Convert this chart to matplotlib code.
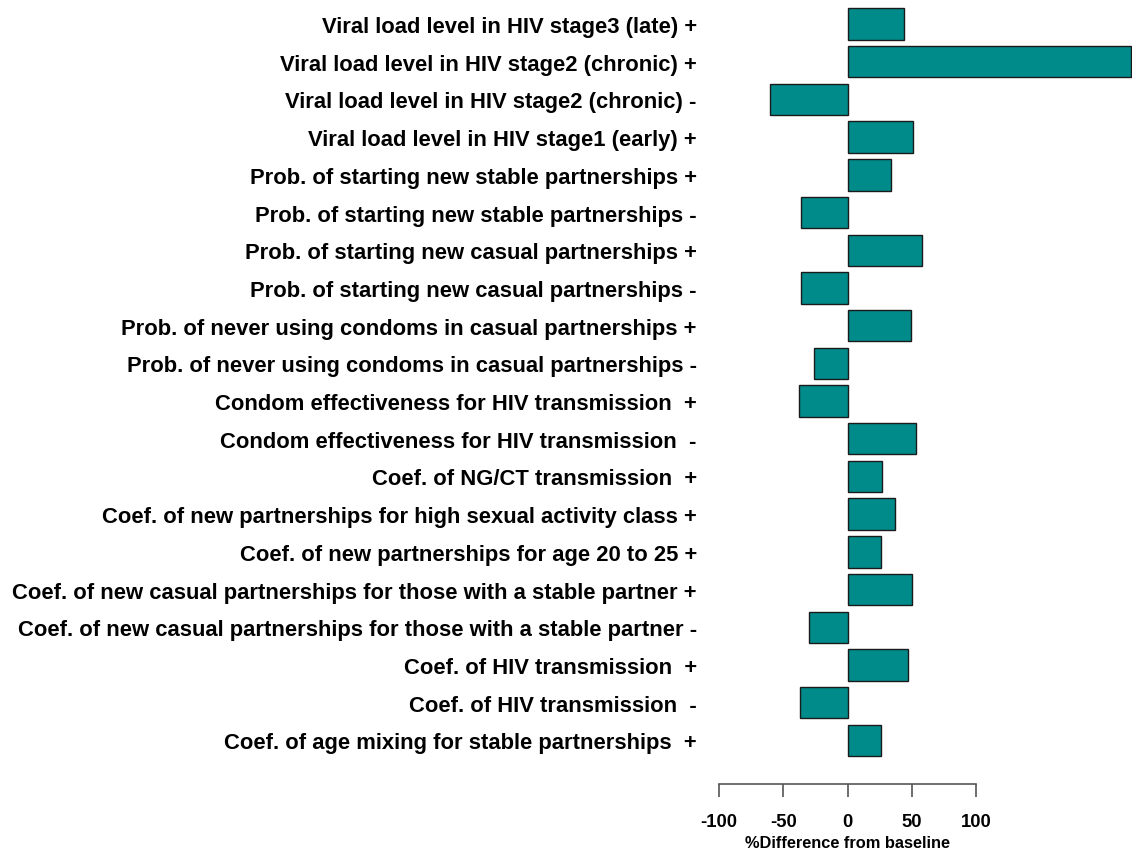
"""
Sensitivity analysis: % difference from baseline per parameter change.
"""

import matplotlib.pyplot as plt
import numpy as np

labels = [
    "Viral load level in HIV stage3 (late) +",
    "Viral load level in HIV stage2 (chronic) +",
    "Viral load level in HIV stage2 (chronic) -",
    "Viral load level in HIV stage1 (early) +",
    "Prob. of starting new stable partnerships +",
    "Prob. of starting new stable partnerships -",
    "Prob. of starting new casual partnerships +",
    "Prob. of starting new casual partnerships -",
    "Prob. of never using condoms in casual partnerships +",
    "Prob. of never using condoms in casual partnerships -",
    "Condom effectiveness for HIV transmission  +",
    "Condom effectiveness for HIV transmission  -",
    "Coef. of NG/CT transmission  +",
    "Coef. of new partnerships for high sexual activity class +",
    "Coef. of new partnerships for age 20 to 25 +",
    "Coef. of new casual partnerships for those with a stable partner +",
    "Coef. of new casual partnerships for those with a stable partner -",
    "Coef. of HIV transmission  +",
    "Coef. of HIV transmission  -",
    "Coef. of age mixing for stable partnerships  +",
]
pct_diff = [44, 220, -60, 51, 34, -36, 58, -36, 49, -26,
            -38, 53, 27, 37, 26, 50, -30, 47, -37, 26]
xticks = [-100, -50, 0, 50, 100]

plt.rcParams['font.family'] = ['Liberation Sans', 'DejaVu Sans']
plt.rcParams['font.weight'] = 'bold'

fig = plt.figure(figsize=(11.32, 8.54), dpi=100)
ax = fig.add_axes([719 / 1132, 1 - 770 / 854, 1 - 719 / 1132, 770 / 854])

# axis line only spans -100..100, set below the bars (R style)
for side in ["top", "right", "left"]:
    ax.spines[side].set_visible(False)
ax.spines["bottom"].set_position(("outward", 11))
ax.spines["bottom"].set_bounds(-100, 100)
ax.spines["bottom"].set_color("#555555")
ax.spines["bottom"].set_linewidth(1.2)

ypos = np.arange(len(labels))
ax.barh(ypos, pct_diff, height=0.833, color="#008B8B", edgecolor="#1a1a1a", linewidth=1.0)

ax.set_xlim(-100, 221)
ax.set_ylim(19.76, -0.663)

ax.set_yticks(ypos)
ax.set_yticklabels(labels, fontweight="bold")
ax.tick_params(axis="y", length=0, pad=16, labelsize=15.8)

ax.set_xticks(xticks)
ax.set_xticklabels([str(t) for t in xticks], fontweight="bold")
ax.tick_params(axis="x", direction="out", length=9, width=1.2, color="#555555",
               pad=12, labelsize=13.3)

# x label centred under the -100..100 axis line
ax.text(0, -0.095, "%Difference from baseline", transform=ax.get_xaxis_transform(),
        ha="center", va="center", fontsize=11.8, fontweight="bold")

fig.savefig("out.png")
plt.close(fig)
